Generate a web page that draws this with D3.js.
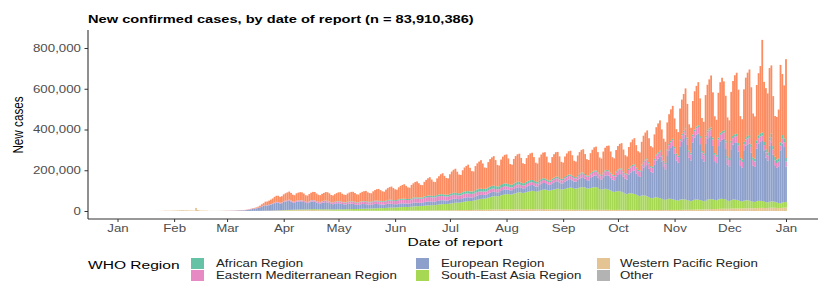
<!DOCTYPE html>
<html>
<head>
<meta charset="utf-8">
<script src="https://cdn.jsdelivr.net/npm/d3@7"></script>
<style>
  html, body { margin: 0; padding: 0; background: #fff; }
  svg { display: block; font-family: "Liberation Sans", Arial, Helvetica, sans-serif; }
</style>
</head>
<body>
<svg id="chart" width="818" height="282"></svg>
<script>
// daily new cases by date of report, in thousands, one row per week (Mon..Sun), from 2020-01-20
const startDate = new Date(2020, 0, 20);

const wpK = [
  .1,.1,.2,.3,.4,.7,.8,
  1.8,1.5,1.5,1.7,2.0,2.1,2.6,
  2.8,3.2,3.9,3.7,3.2,3.4,2.7,
  3.0,2.5,2.0,15.1,5.1,2.6,2.1,
  2.0,1.9,1.7,0.4,0.9,0.6,0.7,
  0.5,0.6,0.6,0.9,1.0,1.2,1.0,
  0.8,0.9,0.7,0.7,0.8,0.6,0.5,
  0.4,0.3,0.3,0.3,0.2,0.3,0.3,
  0.3,0.4,0.4,0.6,0.7,0.8,1.0,
  1.2,1.0,1.3,1.5,1.6,2.0,2.2,
  2.1,2.2,2.3,2.6,3.0,3.2,3.3,
  3.5,3.6,3.8,4.0,4.1,4.0,3.9,
  3.8,4.2,4.0,4.6,4.8,4.7,4.3,
  3.8,3.3,3.5,3.2,3.1,2.8,2.4,
  2.2,2.0,1.9,2.1,1.8,1.6,1.5,
  1.4,1.5,1.5,1.4,1.5,1.3,1.3,
  1.3,1.2,1.2,1.4,1.3,1.2,1.0,
  1.0,1.1,1.2,1.4,1.3,1.2,1.2,
  1.1,1.2,1.4,1.5,1.6,1.5,1.4,
  1.4,1.5,1.7,1.9,1.8,1.7,1.6,
  1.5,1.7,1.9,2.0,2.1,2.0,1.9,
  1.9,2.1,2.4,2.5,2.6,2.8,2.7,
  2.6,2.8,3.0,3.1,3.3,3.4,3.2,
  3.3,3.5,3.6,3.9,4.1,4.2,4.0,
  4.2,4.4,4.6,5.0,5.3,5.0,4.9,
  5.0,5.4,5.8,6.0,6.2,6.1,6.0,
  6.2,6.4,6.8,7.2,7.5,7.7,7.6,
  7.8,8.0,8.4,8.6,8.8,8.5,8.3,
  8.4,8.6,8.9,9.0,9.2,9.1,8.8,
  8.6,8.8,9.0,9.4,9.3,9.1,8.9,
  8.7,8.9,9.2,9.5,9.3,9.0,8.8,
  8.6,8.5,8.3,8.1,7.9,7.6,7.4,
  7.2,7.0,6.9,6.8,6.7,6.6,6.5,
  6.3,6.0,6.1,6.2,6.4,6.3,6.0,
  5.9,5.8,6.0,6.2,6.3,6.1,5.9,
  5.7,5.6,5.8,5.9,6.0,5.8,5.6,
  5.3,5.2,5.4,5.5,5.6,5.4,5.2,
  5.0,4.8,5.0,5.1,5.3,5.1,4.9,
  4.8,4.6,4.9,5.0,5.2,5.0,4.8,
  4.7,4.5,4.8,5.0,5.1,5.0,4.9,
  4.9,4.8,5.0,5.2,5.4,5.3,5.2,
  5.3,5.2,5.5,5.8,6.0,6.1,5.9,
  6.0,6.1,6.6,7.0,7.3,7.5,7.2,
  7.4,7.6,8.1,8.6,9.0,9.4,9.2,
  9.5,9.6,10.2,10.8,11.0,11.3,11.0,
  10.8,10.9,11.6,12.0,12.4,12.6,12.2,
  12.0,12.1,12.8,13.4,13.8,14.0,13.6,
  13.3,13.5,14.2,14.8,15.2,15.4,15.0,
  14.6,14.8,15.5,16.0,16.2,15.8,15.1,
  14.5,14.3,15.6,16.4,16.8
];

const seaK = [
  0,0,0,0,0,0,0,
  0,0,0,0,0,0,0,
  0,0,0,0,0,0,0,
  0,0,0,0,0,0,0,
  0,0,0,0,0,0,0,
  0,0,0,0,0,0,0,
  0,0,0,0,0,0,0,
  0,0,0,0,0,0.1,0.1,
  0.1,0.1,0.1,0.1,0.2,0.3,0.3,
  0.4,0.4,0.5,0.6,0.7,0.8,0.9,
  1.0,1.2,1.5,1.9,2.0,2.2,2.4,
  2.6,2.8,3.0,3.1,3.3,3.4,3.5,
  3.4,3.6,3.7,3.9,4.0,4.3,4.4,
  4.5,4.7,4.9,5.0,5.3,5.4,5.5,
  5.6,5.7,5.9,6.2,6.4,6.6,6.8,
  7.2,7.5,7.8,8.1,8.3,8.5,8.6,
  8.5,8.8,9.2,9.5,9.8,10.1,10.3,
  10.6,10.9,11.3,11.8,12.1,12.5,12.9,
  13.0,13.4,13.8,14.2,14.6,15.0,15.3,
  15.5,16.0,16.5,17.0,17.6,18.0,18.5,
  18.2,18.7,19.5,20.2,20.8,21.5,22.0,
  21.8,22.5,23.2,24.0,24.8,25.6,26.2,
  26.0,26.8,27.5,28.5,29.5,30.4,31.0,
  30.8,31.5,32.6,34.0,35.2,36.3,37.0,
  36.5,37.6,39.0,40.5,42.0,43.5,44.2,
  44.0,45.5,47.5,49.0,51.0,53.0,54.0,
  54.5,56.0,58.5,61.0,63.0,65.0,65.5,
  64.0,65.5,68.0,70.5,73.0,74.0,74.5,
  72.0,73.5,76.0,78.5,81.0,82.5,82.0,
  80.0,81.5,83.5,86.0,88.0,90.0,89.0,
  86.0,87.5,90.0,92.5,95.0,96.5,95.0,
  92.0,93.0,95.5,98.0,100.5,102.0,101.0,
  98.0,99.0,101.5,104.0,106.5,108.5,107.0,
  103.0,104.0,106.0,108.5,110.0,111.5,109.5,
  105.0,104.5,107.0,109.0,110.5,111.0,108.0,
  102.0,99.5,101.0,103.0,101.5,99.0,95.0,
  90.0,88.5,91.0,92.5,90.5,88.5,85.0,
  80.5,78.0,81.0,82.0,80.5,78.5,75.0,
  70.5,68.0,71.0,72.5,70.0,67.5,64.0,
  59.5,58.0,61.5,62.5,60.0,58.0,54.5,
  51.0,50.0,53.0,55.0,54.0,52.0,50.0,
  47.5,46.5,50.0,51.5,51.0,50.0,48.0,
  45.0,42.5,45.0,48.5,49.0,48.0,46.0,
  43.0,40.0,42.5,47.0,48.5,49.0,48.0,
  45.0,43.5,46.5,49.0,48.5,47.5,45.0,
  40.0,38.5,41.5,44.0,43.5,42.0,40.0,
  36.5,35.0,37.5,39.5,38.5,37.0,35.0,
  32.5,31.0,33.5,35.0,34.5,33.0,31.0,
  28.5,27.5,30.0,31.5,30.5,29.0,27.0,
  24.5,23.5,26.0,27.5,27.0
];

const eurK = [
  0,0,0,0,0,0,0,
  0,0,0,0,0,0,0,
  0,0,0,0,0,0,0,
  0,0,0,0,0,0,0,
  0,0,0,0,0,0,0,
  0.1,0.1,0.1,0.2,0.3,0.4,0.6,
  0.6,0.8,0.9,1.1,1.3,1.9,2.3,
  2.6,2.8,3.6,4.8,6.3,7.3,9.8,
  10.8,12.3,14.5,17.8,21.5,23.4,26.2,
  24.8,27.0,29.6,32.0,36.0,38.5,37.0,
  33.5,35.0,40.5,42.0,43.5,45.0,41.0,
  36,34,38.5,39.5,40,38,36.5,
  32.5,31,34,37.5,38,36,33,
  30,29,32,34,35,33,31,
  27,25.5,28,29.5,30,28.5,26,
  24,23,25,26.5,26,25,23,
  21,20,22.5,23.5,23,22,20.5,
  19,18,20.5,21.5,21,19.5,18.5,
  17.5,16.5,18.5,19.5,19.5,18.5,17,
  16.5,15.5,17.5,18.5,18,17.5,16.5,
  16,15,17,18.5,18.5,17.5,16.5,
  16.5,15.5,18,19,19.5,18.5,17,
  17,16,18.5,19.5,20,19,17.5,
  17.5,16.5,19,20,20.5,19.5,18,
  17.5,16.5,19,20,20,19,17.5,
  17.5,17,19.5,20.5,21,20,18.5,
  18.5,18,20.5,22,22.5,21.5,19.5,
  19.5,19,22,23.5,24.5,23.5,21.5,
  21,20,23.5,25,26,25,23,
  22.5,21.5,26,28,29.5,28.5,26,
  25,24,29,31,33,32,29,
  28,27,32.5,35,37.5,36,32,
  30.5,30,36,39,42,41,37,
  35,34,41.5,45,48.5,48,43,
  40.5,40,49,53,57,57.5,51,
  49,48,59,64,68,69,62,
  58,57,72,79,85,87,78,
  73,72,92,102,110,115,103,
  96,95,120,135,145,153,138,
  128,126,160,180,192,203,184,
  160,150,212,235,250,262,225,
  195,185,262,285,300,318,270,
  210,200,285,305,318,325,275,
  205,195,278,298,305,310,262,
  190,182,262,282,290,295,248,
  178,170,250,270,278,282,240,
  172,165,248,268,275,280,238,
  178,172,258,280,290,295,252,
  220,205,275,290,230,180,170,
  180,260,290,270,175
];

const emedK = [
  0,0,0,0,0,0,0,
  0,0,0,0,0,0,0,
  0,0,0,0,0,0,0,
  0,0,0,0,0,0,0,
  0,0,0,0,0,0,0,
  0.02,0.05,0.05,0.1,0.1,0.2,0.2,
  0.4,0.5,0.6,0.6,0.7,1.1,0.8,
  0.7,1.0,1.0,1.1,1.3,1.4,1.5,
  1.4,1.5,1.6,1.4,1.5,1.7,1.9,
  2.0,2.1,2.3,2.5,2.7,3.0,3.2,
  3.4,3.5,3.7,3.9,4.0,4.2,4.4,
  4.2,4.4,4.6,4.8,5.0,5.1,5.0,
  4.8,5.0,5.3,5.5,5.8,6.0,5.9,
  5.9,6.2,6.5,6.8,7.0,7.2,7.1,
  7.2,7.5,7.8,8.1,8.4,8.6,8.5,
  8.6,8.9,9.2,9.5,9.8,10.0,9.9,
  10.0,10.3,10.6,10.9,11.2,11.5,11.4,
  11.6,12.0,12.4,12.8,13.2,13.5,13.4,
  13.6,14.0,14.5,15.0,15.5,15.8,15.6,
  15.8,16.2,16.7,17.2,17.6,18.0,17.8,
  18.0,18.5,19.0,19.4,19.8,20.1,19.9,
  20.0,20.4,20.8,21.2,21.5,21.6,21.3,
  21.0,20.8,21.0,21.3,21.0,20.7,20.2,
  19.8,19.6,19.8,19.9,19.5,19.2,18.8,
  18.5,18.3,18.5,18.6,18.4,18.0,17.6,
  17.3,17.0,17.2,17.4,17.1,16.8,16.4,
  16.1,15.9,16.2,16.4,16.1,15.8,15.4,
  15.2,15.0,15.2,15.4,15.2,14.9,14.6,
  14.4,14.2,14.5,14.7,14.6,14.3,14.0,
  13.8,13.7,14.0,14.3,14.3,14.1,13.8,
  13.7,13.6,14.0,14.4,14.5,14.4,14.1,
  14.0,14.0,14.5,15.0,15.2,15.1,14.8,
  14.8,14.9,15.5,16.1,16.4,16.3,16.0,
  16.0,16.2,16.8,17.4,17.7,17.6,17.3,
  17.3,17.5,18.1,18.7,19.0,18.9,18.6,
  18.6,18.8,19.5,20.2,20.6,20.5,20.1,
  20.1,20.4,21.2,22.0,22.5,22.4,22.0,
  22.0,22.4,23.3,24.2,24.8,24.8,24.3,
  24.3,24.8,25.8,26.8,27.5,27.6,27.1,
  22.0,22.5,23.4,24.3,25.0,25.1,24.6,
  24.5,25.0,26.0,26.8,27.5,27.7,27.2,
  27.0,27.4,28.3,29.1,29.7,29.9,29.4,
  29.0,29.5,30.3,31.0,31.5,31.6,31.1,
  30.7,31.0,31.7,32.3,32.6,32.5,32.0,
  31.4,31.6,32.1,32.5,32.6,32.3,31.7,
  30.9,30.8,31.2,31.4,31.3,30.9,30.2,
  29.4,29.1,29.4,29.5,29.3,28.8,28.1,
  27.2,26.9,27.2,27.2,26.9,26.4,25.7,
  25.0,24.6,24.9,25.0,24.6,24.1,23.5,
  23.0,22.8,23.2,23.5,23.3
];

const afrK = [
  0,0,0,0,0,0,0,
  0,0,0,0,0,0,0,
  0,0,0,0,0,0,0,
  0,0,0,0,0,0,0,
  0,0,0,0,0,0,0,
  0,0,0,0,0,0,0,
  0,0,0,0,0,0,0,
  0,0,0,0,0,0,0.1,
  0.1,0.1,0.1,0.1,0.2,0.2,0.3,
  0.3,0.3,0.4,0.4,0.5,0.5,0.5,
  0.5,0.6,0.6,0.7,0.7,0.8,0.8,
  0.8,0.8,0.9,0.9,1.0,1.0,1.0,
  1.0,1.1,1.1,1.2,1.2,1.3,1.3,
  1.3,1.4,1.4,1.5,1.6,1.6,1.6,
  1.6,1.7,1.8,1.9,2.0,2.0,2.0,
  2.0,2.1,2.2,2.3,2.4,2.4,2.4,
  2.4,2.5,2.6,2.7,2.8,2.9,2.9,
  2.9,3.0,3.1,3.3,3.4,3.5,3.5,
  3.5,3.6,3.8,4.0,4.1,4.2,4.2,
  4.3,4.4,4.6,4.8,5.0,5.1,5.1,
  5.2,5.4,5.6,5.8,6.0,6.1,6.1,
  6.2,6.4,6.7,7.0,7.2,7.4,7.3,
  7.4,7.7,8.0,8.3,8.6,8.8,8.7,
  8.8,9.1,9.4,9.8,10.1,10.3,10.2,
  10.3,10.6,11.0,11.4,11.7,11.9,11.8,
  11.9,12.2,12.6,13.0,13.3,13.5,13.3,
  13.3,13.5,13.8,14.1,14.3,14.3,14.0,
  13.8,13.8,13.9,14.0,13.9,13.7,13.3,
  13.0,12.8,12.8,12.7,12.5,12.2,11.8,
  11.5,11.2,11.1,10.9,10.6,10.3,9.9,
  9.6,9.3,9.2,9.0,8.8,8.5,8.2,
  8.0,7.8,7.8,7.6,7.5,7.3,7.1,
  6.9,6.8,6.8,6.7,6.6,6.5,6.3,
  6.2,6.1,6.1,6.1,6.0,5.9,5.8,
  5.7,5.6,5.7,5.7,5.7,5.6,5.5,
  5.4,5.4,5.5,5.6,5.6,5.6,5.5,
  5.4,5.4,5.6,5.7,5.8,5.8,5.7,
  5.6,5.6,5.8,6.0,6.1,6.1,6.0,
  5.9,5.9,6.1,6.3,6.4,6.4,6.3,
  6.2,6.2,6.4,6.6,6.7,6.7,6.6,
  6.5,6.5,6.7,6.9,7.0,7.1,7.0,
  6.9,7.0,7.2,7.4,7.6,7.7,7.6,
  7.5,7.6,7.9,8.1,8.3,8.4,8.3,
  8.2,8.3,8.6,8.9,9.1,9.2,9.1,
  9.0,9.1,9.4,9.7,9.9,10.0,9.9,
  9.8,9.9,10.3,10.7,11.0,11.1,11.0,
  10.9,11.1,11.6,12.1,12.5,12.7,12.6,
  12.6,12.9,13.6,14.3,14.8,15.1,15.0,
  15.0,15.4,16.2,17.0,17.5,17.2,16.5,
  16.0,16.5,17.8,19.0,18.2
];

const amrK = [
  0,0,0,0,0,0,0,
  0,0,0,0,0,0,0,
  0,0,0,0,0,0,0,
  0,0,0,0,0,0,0,
  0,0,0,0,0,0,0,
  0,0,0,0,0,0,0.1,
  0.1,0.1,0.1,0.1,0.2,0.2,0.3,
  0.4,0.5,0.6,0.8,1.0,1.5,2.0,
  2.5,3.2,4.5,6.0,9.0,12.0,16.0,
  18,20,22,24.5,28,30,31,
  29,30,33,36,38,40,37,
  33,32,36,38,39,40,36,
  32,31,35,37,40,41,37,
  34,33,36,38,41,42,39,
  35,34,37,40,43,45,40,
  37,36,40,43,46,47,43,
  39,38,43,46,49,51,46,
  43,42,48,52,56,58,53,
  48,46,53,58,62,65,59,
  53,51,59,64,68,71,64,
  57,55,65,70,75,78,70,
  62,60,72,79,85,90,80,
  70,68,82,90,98,103,92,
  82,80,96,106,113,118,105,
  92,90,108,118,124,130,116,
  100,97,118,128,134,140,125,
  105,102,124,134,140,145,128,
  106,102,125,135,140,143,126,
  102,98,120,130,135,138,121,
  98,94,116,126,131,134,117,
  94,90,111,121,126,128,112,
  88,85,106,115,120,122,106,
  84,80,101,110,115,117,101,
  80,76,96,106,111,114,98,
  80,77,98,108,114,117,100,
  82,80,101,112,118,121,104,
  85,82,104,114,120,124,106,
  88,85,107,118,124,128,110,
  92,89,112,124,131,136,117,
  98,95,120,133,141,147,126,
  108,104,132,146,155,162,140,
  120,116,150,168,180,190,165,
  128,123,165,188,200,212,185,
  162,156,200,225,242,255,222,
  180,172,220,248,262,240,220,
  190,185,240,270,290,300,262,
  205,198,258,292,310,322,280,
  215,208,272,305,330,455,295,
  300,290,340,335,245,200,210,
  240,380,300,260,485
];

// "Other" (conveyance) only reported on a few days
const otherDates = ['2020-02-07', '2020-02-10', '2020-02-13', '2020-02-15', '2020-02-17', '2020-02-20'];
const otherK = [0.06, 0.07, 0.04, 0.07, 0.1, 0.01];

const regionKeys = ['other', 'wp', 'sea', 'eur', 'emed', 'afr', 'amr'];
const regionNames = {
  afr: 'African Region', amr: 'Region of the Americas', emed: 'Eastern Mediterranean Region',
  eur: 'European Region', sea: 'South-East Asia Region', wp: 'Western Pacific Region', other: 'Other'
};
const regionColors = {
  afr: '#66C2A5', amr: '#FC8D62', emed: '#E78AC3', eur: '#8DA0CB',
  sea: '#A6D854', wp: '#E5C494', other: '#B3B3B3'
};
const yTicks = [0, 200000, 400000, 600000, 800000];
const titleText = 'New confirmed cases, by date of report (n = 83,910,386)';

// ---------- build rows
const fmtDay = d3.timeFormat('%Y-%m-%d');
const rows = wpK.map((v, i) => {
  const date = d3.timeDay.offset(startDate, i);
  const oi = otherDates.indexOf(fmtDay(date));
  return {
    date: date,
    other: oi >= 0 ? otherK[oi] * 1000 : 0,
    wp: (wpK[i] || 0) * 1000,
    sea: (seaK[i] || 0) * 1000,
    eur: (eurK[i] || 0) * 1000,
    emed: (emedK[i] || 0) * 1000,
    afr: (afrK[i] || 0) * 1000,
    amr: (amrK[i] || 0) * 1000
  };
});

const series = d3.stack().keys(regionKeys)(rows);

// ---------- scales (picture is stretched horizontally, so text is too)
const sx = 1.33;
const svg = d3.select('#chart');
const x = d3.scaleTime()
  .domain([new Date(2020, 0, 1), new Date(2021, 0, 1)])
  .range([117.5, 786]);
const y = d3.scaleLinear().domain([0, 800000]).range([211, 48]);
const barW = 1.8;

// bars
svg.append('g')
  .selectAll('g.layer')
  .data(series)
  .join('g')
  .attr('class', 'layer')
  .attr('fill', d => regionColors[d.key])
  .selectAll('rect')
  .data(d => d)
  .join('rect')
  .attr('x', d => x(d.data.date) - barW / 2)
  .attr('y', d => y(d[1]))
  .attr('width', barW)
  .attr('height', d => Math.max(0, y(d[0]) - y(d[1])));

// axis lines
svg.append('line')
  .attr('x1', 88).attr('x2', 88).attr('y1', 30).attr('y2', 219)
  .attr('stroke', '#333').attr('stroke-width', 1.1);
svg.append('line')
  .attr('x1', 88).attr('x2', 818).attr('y1', 219).attr('y2', 219)
  .attr('stroke', '#333').attr('stroke-width', 1.1);

// y axis
const yAxis = svg.append('g')
  .attr('transform', 'translate(88,0)')
  .call(d3.axisLeft(y).tickValues(yTicks).tickFormat(d3.format(',')).tickSize(3.5));
yAxis.select('.domain').remove();
yAxis.attr('font-family', null).attr('font-size', 10);
yAxis.selectAll('.tick line').attr('stroke', '#333');
yAxis.selectAll('.tick text')
  .attr('x', 0)
  .attr('dy', '0.34em')
  .attr('fill', '#4d4d4d')
  .attr('transform', `translate(-7,0) scale(${sx},1)`);

// x axis
const xAxis = svg.append('g')
  .attr('transform', 'translate(0,219)')
  .call(d3.axisBottom(x).ticks(d3.timeMonth.every(1)).tickFormat(d3.timeFormat('%b')).tickSize(3));
xAxis.select('.domain').remove();
xAxis.attr('font-family', null).attr('font-size', 10);
xAxis.selectAll('.tick line').attr('stroke', '#333');
xAxis.selectAll('.tick text')
  .attr('y', 0)
  .attr('dy', 0)
  .attr('fill', '#4d4d4d')
  .attr('transform', `translate(0,13) scale(${sx},1)`);

// title and axis titles
svg.append('text')
  .attr('transform', `translate(88,22.5) scale(${sx},1)`)
  .attr('font-size', 11)
  .attr('font-weight', 'bold')
  .attr('fill', '#000')
  .text(titleText);

svg.append('text')
  .attr('transform', `translate(455,246) scale(${sx},1)`)
  .attr('text-anchor', 'middle')
  .attr('font-size', 11.7)
  .attr('fill', '#000')
  .text('Date of report');

svg.append('text')
  .attr('transform', `translate(23,125) scale(${sx},1) rotate(-90)`)
  .attr('text-anchor', 'middle')
  .attr('font-size', 11.7)
  .attr('fill', '#000')
  .text('New cases');

// legend (second row sits at the bottom edge, as in the reference)
svg.append('text')
  .attr('transform', `translate(88,269) scale(${sx},1)`)
  .attr('font-size', 11.7)
  .attr('fill', '#000')
  .text('WHO Region');

const legendCols = [['afr', 'emed'], ['eur', 'sea'], ['wp', 'other']];
const keyX = [191, 416, 597];
const labelX = [216, 441, 620];
const rowY = [258, 270];

legendCols.forEach((col, ci) => {
  col.forEach((k, ri) => {
    svg.append('rect')
      .attr('x', keyX[ci]).attr('y', rowY[ri])
      .attr('width', 13).attr('height', 11)
      .attr('fill', regionColors[k]);
    svg.append('text')
      .attr('transform', `translate(${labelX[ci]},${rowY[ri] + 9}) scale(${sx},1)`)
      .attr('font-size', 10)
      .attr('fill', '#222')
      .text(regionNames[k]);
  });
});
</script>
</body>
</html>
